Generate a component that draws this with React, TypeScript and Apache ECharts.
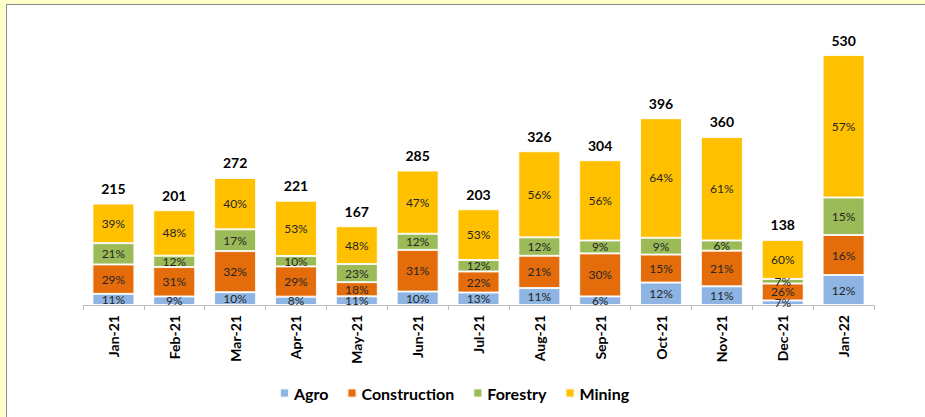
import React, { useEffect, useRef } from "react";
import * as echarts from "echarts";

const categories = ["Jan-21","Feb-21","Mar-21","Apr-21","May-21","Jun-21","Jul-21","Aug-21","Sep-21","Oct-21","Nov-21","Dec-21","Jan-22"];
const totals = [215, 201, 272, 221, 167, 285, 203, 326, 304, 396, 360, 138, 530];
const agroPct = [11, 9, 10, 8, 11, 10, 13, 11, 6, 12, 11, 7, 12];
const constructionPct = [29, 31, 32, 29, 18, 31, 22, 21, 30, 15, 21, 26, 16];
const forestryPct = [21, 12, 17, 10, 23, 12, 12, 12, 9, 9, 6, 7, 15];
const miningPct = [39, 48, 40, 53, 48, 47, 53, 56, 56, 64, 61, 60, 57];
const seriesNames = ["Agro", "Construction", "Forestry", "Mining"];
const colors = ["#8DB4E2", "#E46C0A", "#9BBB59", "#FFC000"];

const FONT = "Lato, 'Open Sans', sans-serif";

export default function App() {
  const ref = useRef<HTMLDivElement>(null);
  useEffect(() => {
    document.body.style.margin = "0";
    if (!ref.current) return;
    const chart = echarts.init(ref.current, undefined, { renderer: "svg" });
    const pcts = [agroPct, constructionPct, forestryPct, miningPct];
    const series: any[] = pcts.map((p, i) => ({
      name: seriesNames[i],
      type: "bar",
      stack: "total",
      barCategoryGap: "31%",
      itemStyle: { color: colors[i], borderColor: "rgba(255,255,255,0.85)", borderWidth: 1 },
      label: {
        show: true,
        position: "inside",
        formatter: (prm: any) => p[prm.dataIndex] + "%",
        color: "#262626",
        fontFamily: FONT,
        fontSize: 12,
      },
      data: p.map((v, j) => (totals[j] * v) / 100),
    }));
    series.push({
      name: "Total",
      type: "bar",
      stack: "total",
      data: totals.map(() => 0),
      itemStyle: { color: "transparent" },
      label: {
        show: true,
        position: "top",
        distance: 8,
        formatter: (prm: any) => String(totals[prm.dataIndex]),
        color: "#000",
        fontFamily: FONT,
        fontWeight: "bold",
        fontSize: 14,
      },
    });
    chart.setOption({
      animation: false,
      grid: { left: 83, right: 51, top: 22, bottom: 112, containLabel: false },
      legend: {
        data: seriesNames,
        bottom: 11,
        left: 274,
        itemWidth: 9,
        itemHeight: 9,
        itemGap: 18,
        icon: "rect",
        textStyle: { fontFamily: FONT, fontWeight: "bold", fontSize: 16, color: "#000" },
      },
      xAxis: {
        type: "category",
        data: categories,
        axisLine: { lineStyle: { color: "#BFBFBF" } },
        axisTick: { show: true, alignWithLabel: false, length: 5, lineStyle: { color: "#BFBFBF" } },
        axisLabel: { rotate: 90, fontFamily: FONT, fontWeight: "bold", fontSize: 14, color: "#000", margin: 10 },
      },
      yAxis: { type: "value", min: 0, max: 600, show: false, splitLine: { show: false } },
      series,
    });
    return () => chart.dispose();
  }, []);
  return (
    <div style={{ position: "relative", width: 925, height: 417, background: "#FFFFCC", overflow: "hidden" }}>
      <div style={{ position: "absolute", left: 6, top: 4, width: 930, height: 420, background: "#fff", borderLeft: "1px solid #8c8c8c", borderTop: "1px solid #8c8c8c" }} />
      <div ref={ref} style={{ position: "absolute", left: 0, top: 0, width: 925, height: 417 }} />
    </div>
  );
}
